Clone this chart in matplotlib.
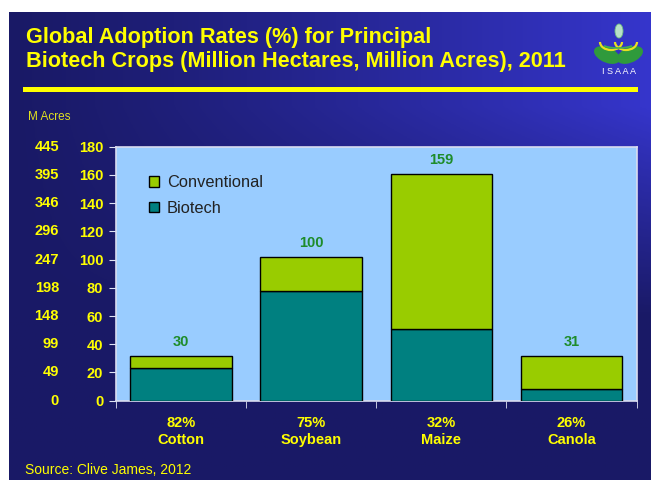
import numpy as np
import matplotlib
matplotlib.use("Agg")
import matplotlib.pyplot as plt
from matplotlib.patches import Rectangle, Ellipse, Arc

plt.rcParams['font.family'] = ['Liberation Sans', 'DejaVu Sans']

# Data (million hectares)
crops = ['Cotton', 'Soybean', 'Maize', 'Canola']
adoption = ['82%', '75%', '32%', '26%']
biotech = [23.5, 77.5, 50.5, 8.0]
total = [31.5, 101.5, 160.5, 31.5]
conventional = [t - b for t, b in zip(total, biotech)]
total_labels = ['30', '100', '159', '31']
ha_ticks = [0, 20, 40, 60, 80, 100, 120, 140, 160, 180]
acre_ticks = ['0', '49', '99', '148', '198', '247', '296', '346', '395', '445']

W, H = 651, 480
YELLOW = '#ffff00'

fig = plt.figure(figsize=(W / 100, H / 100), dpi=100)
fig.patch.set_facecolor('white')

# slide background gradient (dark navy, brighter blue towards top right)
bg = fig.add_axes([9 / W, 0, (W - 9) / W, (H - 12) / H])
gx = np.linspace(0, 1, 300)
gy = np.linspace(0, 1, 200)
XX, YY = np.meshgrid(gx, gy)
v = np.clip((0.65 - YY) / 0.45, 0, 1)
t = (XX ** 1.2) * v
dark = np.array([0.10, 0.10, 0.40])
bright = np.array([0.21, 0.21, 0.80])
img = dark[None, None, :] * (1 - t[..., None]) + bright[None, None, :] * t[..., None]
bg.imshow(img, aspect='auto', extent=[0, 1, 0, 1], origin='upper')
bg.set_axis_off()

def px(x, y):
    return x / W, 1 - y / H

# title
fig.text(*px(26, 43), 'Global Adoption Rates (%) for Principal', color=YELLOW,
         fontsize=15.6, fontweight='bold', va='baseline', ha='left')
fig.text(*px(26, 67), 'Biotech Crops (Million Hectares, Million Acres), 2011', color=YELLOW,
         fontsize=15.6, fontweight='bold', va='baseline', ha='left')
fig.add_artist(Rectangle(px(23, 91.7), 615 / W, 5 / H, transform=fig.transFigure,
                         facecolor=YELLOW, edgecolor='none'))

# simple ISAAA logo
fig.add_artist(Ellipse(px(607, 55), 30 / W, 14 / H, angle=-40, transform=fig.transFigure,
                       facecolor='#2f9a3c', edgecolor='none'))
fig.add_artist(Ellipse(px(630, 55), 30 / W, 14 / H, angle=40, transform=fig.transFigure,
                       facecolor='#2f9a3c', edgecolor='none'))
fig.add_artist(Arc(px(611, 42), 22 / W, 16 / H, theta1=180, theta2=360, transform=fig.transFigure,
                   color='#e8e020', lw=1.6))
fig.add_artist(Arc(px(626, 42), 22 / W, 16 / H, theta1=180, theta2=360, transform=fig.transFigure,
                   color='#e8e020', lw=1.6))
fig.add_artist(Arc(px(618, 42), 36 / W, 12 / H, theta1=200, theta2=340, transform=fig.transFigure,
                   color='#40b050', lw=1.2))
fig.add_artist(Ellipse(px(619, 31), 8 / W, 14 / H, transform=fig.transFigure,
                       facecolor='#b8e0c8', edgecolor='#6fbf80', lw=0.6))
fig.text(*px(619, 71), 'I S A A A', color='white', fontsize=6.5, ha='center', va='center')

# main chart
ax = fig.add_axes([115.7 / W, (H - 400.7) / H, 521 / W, 254 / H])
ax.set_facecolor('#99ccff')
x = np.arange(len(crops))
ax.bar(x, biotech, width=0.78, color='#008080', edgecolor='black', linewidth=1,
       label='Biotech', zorder=3)
ax.bar(x, conventional, width=0.78, bottom=biotech, color='#99cc00', edgecolor='black',
       linewidth=1, label='Conventional', zorder=3)
for xi, top, lab in zip(x, total, total_labels):
    ax.text(xi, top + 10, lab, ha='center', va='center', color='#1e8c2a',
            fontsize=10.5, fontweight='bold')

ax.set_xlim(-0.5, 3.5)
ax.set_ylim(0, 180)
for s in ax.spines.values():
    s.set_color('#d8dcf0')
    s.set_linewidth(1.2)

ax.set_yticks(ha_ticks)
ax.set_yticklabels([str(v) for v in ha_ticks])
ax.tick_params(axis='y', colors='#e0e4f4', length=5, pad=4, labelcolor=YELLOW,
               labelsize=10.5)
for lab in ax.get_yticklabels():
    lab.set_fontweight('bold')

ax.set_xticks(x)
ax.set_xticklabels([f'{p}\n{c}' for p, c in zip(adoption, crops)])
ax.set_xticks(np.arange(-0.5, 4), minor=True)
ax.tick_params(axis='x', which='major', length=0, pad=11, labelcolor=YELLOW, labelsize=10.5)
ax.tick_params(axis='x', which='minor', length=5, color='#e0e4f4')
for lab in ax.get_xticklabels():
    lab.set_fontweight('bold')
    lab.set_linespacing(1.25)

# million acres labels
for v, lab in zip(ha_ticks, acre_ticks):
    ax.text(-0.109, v, lab, transform=ax.get_yaxis_transform(), ha='right', va='center',
            color=YELLOW, fontsize=10.5, fontweight='bold')
fig.text(*px(28, 117), 'M Acres', color='#e0e020', fontsize=8.5, ha='left', va='center')

handles, labels = ax.get_legend_handles_labels()
leg = ax.legend(handles[::-1], labels[::-1], loc='upper left', bbox_to_anchor=(0.035, 0.945),
                frameon=False, fontsize=11.8, handlelength=0.62, handleheight=0.62,
                handletextpad=0.5, labelspacing=0.62)
for txt in leg.get_texts():
    txt.set_color('#222222')

fig.text(*px(25, 470), 'Source: Clive James, 2012', color=YELLOW, fontsize=10,
         ha='left', va='center')

fig.savefig('out.png', dpi=100)
